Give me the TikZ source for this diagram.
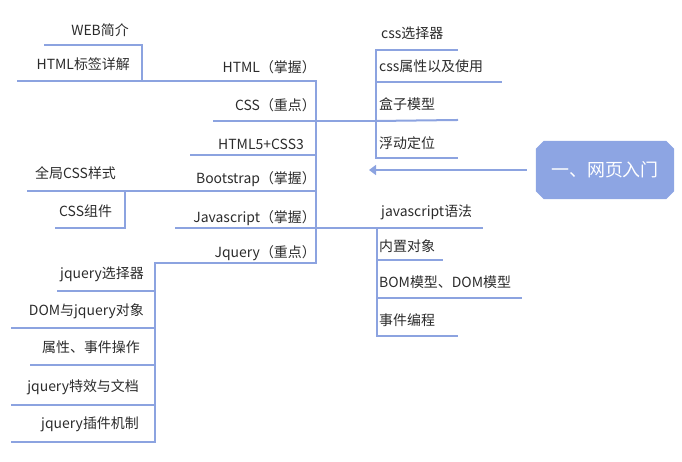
\documentclass[tikz,border=0pt]{standalone}
\usepackage{fontspec}
\setmainfont{Noto Sans CJK SC}
\usetikzlibrary{arrows.meta,backgrounds}
\definecolor{ln}{HTML}{8CA3E0}
\definecolor{rootc}{HTML}{8DA5E3}
\definecolor{tx}{HTML}{2B2B2B}
\tikzset{
  lbl/.style={font=\fontsize{14}{16}\selectfont, text=tx, inner sep=0pt},
  lft/.style={lbl, anchor=east},
  rgt/.style={lbl, anchor=west},
  conn/.style={draw=ln, line width=2bp, line cap=rect},
  rootbox/.style={rectangle, draw=none, minimum width=138bp, minimum height=58bp, inner sep=0pt,
    text=white, font=\fontsize{18}{20}\selectfont}
}
\begin{document}
\begin{tikzpicture}[x=1bp,y=-1bp]
\useasboundingbox (0,0) rectangle (682,462);

% root
\node[rootbox] (root) at (605,170) {一、网页入门};
\begin{scope}[on background layer]
\fill[rootc] ([xshift=8bp]root.north west) -- ([xshift=-8bp]root.north east)
  -- ([yshift=-8bp]root.north east) -- ([yshift=8bp]root.south east)
  -- ([xshift=-8bp]root.south east) -- ([xshift=8bp]root.south west)
  -- ([yshift=8bp]root.south west) -- ([yshift=-8bp]root.north west) -- cycle;
\end{scope}
\coordinate (arrtip) at (369,170);
\draw[draw=ln, line width=2bp, -{Triangle[length=7bp,width=10bp]}, shorten <=9bp] (root.west) -- (arrtip);

% coordinates
\coordinate (tT) at (316,81);
\coordinate (tB) at (316,263);
\coordinate (h0) at (18,81);
\coordinate (hv) at (142,81);
\coordinate (hvt) at (142,45);
\coordinate (w0) at (45,45);
\coordinate (c0) at (214,121);
\coordinate (c1) at (376,121);
\coordinate (cvt) at (376,50);
\coordinate (cvb) at (376,158);
\coordinate (cs1) at (457,50);
\coordinate (cs2a) at (376,82);
\coordinate (cs2) at (501,82);
\coordinate (cs3) at (457,120);
\coordinate (cs4) at (457,158);
\coordinate (h5a) at (191,155);
\coordinate (h5b) at (316,155);
\coordinate (b0) at (28,191);
\coordinate (b1) at (316,191);
\coordinate (bvt) at (125,191);
\coordinate (bvb) at (125,228);
\coordinate (bc0) at (56,228);
\coordinate (j0) at (176,228);
\coordinate (j1) at (482,228);
\coordinate (jvt) at (377,228);
\coordinate (jvb) at (377,336);
\coordinate (js2a) at (377,260);
\coordinate (js2) at (442,260);
\coordinate (js3a) at (377,298);
\coordinate (js3) at (521,298);
\coordinate (js4) at (457,336);
\coordinate (q0) at (155,263);
\coordinate (qvb) at (155,442);
\coordinate (q1a) at (58,291);  \coordinate (q1b) at (155,291);
\coordinate (q2a) at (12,328);  \coordinate (q2b) at (155,328);
\coordinate (q3a) at (31,365);  \coordinate (q3b) at (155,365);
\coordinate (q4a) at (12,405);  \coordinate (q4b) at (155,405);
\coordinate (q5a) at (12,442);

% connectors
\draw[conn] (tT) -- (tB);
\draw[conn] (h0) -- (tT);
\draw[conn] (w0) -- (hvt) -- (hv);
\draw[conn] (c0) -- (c1);
\draw[conn] (cs1) -- (cvt) -- (cvb) -- (cs4);
\draw[conn] (cs2a) -- (cs2);
\draw[conn] (c1) -- (cs3);
\draw[conn] (h5a) -- (h5b);
\draw[conn] (b0) -- (b1);
\draw[conn] (bvt) -- (bvb) -- (bc0);
\draw[conn] (j0) -- (j1);
\draw[conn] (jvt) -- (jvb) -- (js4);
\draw[conn] (js2a) -- (js2);
\draw[conn] (js3a) -- (js3);
\draw[conn] (tB) -- (q0) -- (qvb) -- (q5a);
\draw[conn] (q1a) -- (q1b);
\draw[conn] (q2a) -- (q2b);
\draw[conn] (q3a) -- (q3b);
\draw[conn] (q4a) -- (q4b);

% main topics
\node[lft] (html) at (316,67) {HTML（掌握）};
\node[lft] (css) at (316,105) {CSS（重点）};
\node[lft] (h5) at (304,144) {HTML5+CSS3};
\node[lft] (boot) at (316,179) {Bootstrap（掌握）};
\node[lft] (js) at (316,218) {Javascript（掌握）};
\node[lft] (jq) at (316,253) {Jquery（重点）};

% html children
\node[lft] (web) at (129,30) {WEB简介};
\node[lft] (tag) at (130,64) {HTML标签详解};

% css children
\node[rgt] (sel) at (381,33) {css选择器};
\node[rgt] (attr) at (379,66) {css属性以及使用};
\node[rgt] (box) at (379,104) {盒子模型};
\node[rgt] (flt) at (379,143) {浮动定位};

% bootstrap children
\node[rgt] (glob) at (35,173) {全局CSS样式};
\node[rgt] (comp) at (59,211) {CSS组件};

% javascript children
\node[rgt] (jsg) at (381,212) {javascript语法};
\node[rgt] (obj) at (379,246) {内置对象};
\node[rgt] (bom) at (379,282) {BOM模型、DOM模型};
\node[rgt] (evt) at (379,320) {事件编程};

% jquery children
\node[lft] (jq1) at (144,274) {jquery选择器};
\node[lft] (jq2) at (144,311) {DOM与jquery对象};
\node[lft] (jq3) at (140,347) {属性、事件操作};
\node[lft] (jq4) at (139,387) {jquery特效与文档};
\node[lft] (jq5) at (139,424) {jquery插件机制};
\end{tikzpicture}
\end{document}
